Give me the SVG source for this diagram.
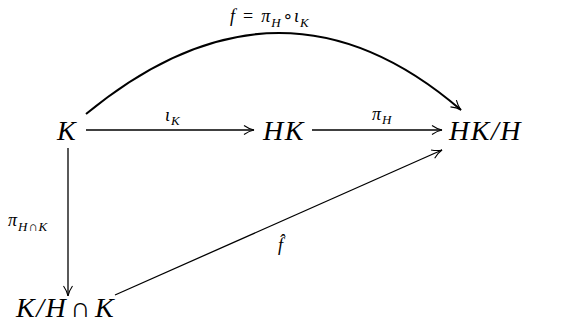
<svg xmlns="http://www.w3.org/2000/svg" width="584" height="324" viewBox="0 0 584 324">
<defs>
<style>
.n{font-family:"Liberation Serif","DejaVu Serif",serif;font-style:italic;font-size:28px;letter-spacing:1.5px;fill:#000}
.l{font-family:"Liberation Serif","DejaVu Serif",serif;font-style:italic;font-size:18px;fill:#000}
.s{font-size:13px;letter-spacing:0.8px}
.u{font-style:normal}
.o{font-family:"DejaVu Sans",sans-serif;font-style:normal;font-size:17px}
.c{fill:none;stroke:#000;stroke-width:1.3}
</style>
<marker id="ah" viewBox="0 0 12 12" refX="11" refY="6" markerWidth="12" markerHeight="12" markerUnits="userSpaceOnUse" orient="auto">
<path d="M1,1.5 Q6,5 11,6 Q6,7 1,10.5" fill="none" stroke="#000" stroke-width="1.1"/>
</marker>
</defs>
<rect width="584" height="324" fill="#fff"/>
<g id="connectors">
<path class="c" d="M86,114 Q280,-46 461,110" style="stroke-width:2" marker-end="url(#ah)"/>
<line class="c" x1="86" y1="130" x2="254" y2="130" marker-end="url(#ah)"/>
<line class="c" x1="312" y1="130" x2="442" y2="130" marker-end="url(#ah)"/>
<line class="c" x1="68" y1="148" x2="68" y2="296" marker-end="url(#ah)"/>
<line class="c" x1="115" y1="295" x2="442" y2="150" marker-end="url(#ah)"/>
<text class="l" x="230" y="22">f<tspan class="u" dx="8">=</tspan><tspan dx="8">π</tspan><tspan class="s" dy="5" dx="1">H</tspan><tspan class="o" dy="-5" dx="1">∘</tspan><tspan dx="1">ι</tspan><tspan class="s" dy="5" dx="1">K</tspan></text>
<text class="l" x="165" y="121">ι<tspan class="s" dy="4" dx="1">K</tspan></text>
<text class="l" x="372" y="120">π<tspan class="s" dy="4" dx="1">H</tspan></text>
<text class="l" x="8" y="226">π<tspan class="s" dy="5" dx="1">H∩K</tspan></text>
<text class="l" x="278" y="251">f̂</text>
</g>
<g id="K"><text class="n" x="57" y="140">K</text></g>
<g id="HK"><text class="n" x="263" y="140">HK</text></g>
<g id="HKH"><text class="n" x="449" y="140">HK/H</text></g>
<g id="KHK"><text class="n" x="16" y="317">K/H<tspan class="u" dx="3">∩</tspan><tspan dx="3">K</tspan></text></g>
</svg>
